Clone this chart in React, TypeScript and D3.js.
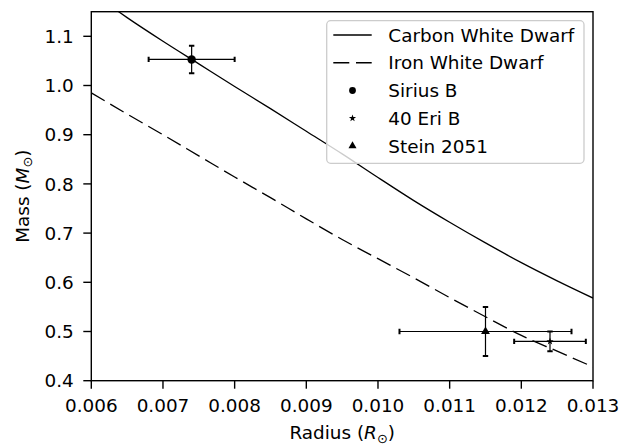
import React from "react";
import * as d3 from "d3";

// model curves (radius in R_sun, mass in M_sun)
const radiusGrid = [0.006, 0.0065, 0.007, 0.0075, 0.008, 0.0085, 0.009, 0.0095, 0.01, 0.0105, 0.011, 0.0115, 0.012, 0.0125, 0.013];
const carbonMass = [1.19, 1.138, 1.09, 1.044, 0.998, 0.953, 0.907, 0.861, 0.813, 0.766, 0.722, 0.68, 0.64, 0.603, 0.568];
const ironMass = [0.985, 0.942, 0.9, 0.857, 0.814, 0.772, 0.729, 0.687, 0.648, 0.609, 0.569, 0.53, 0.492, 0.46, 0.428];

// observed white dwarfs
const starNames = ["Sirius B", "40 Eri B", "Stein 2051"];
const starRadius = [0.0074, 0.0124, 0.0115];
const starRadiusErr = [0.0006, 0.0005, 0.0012];
const starMass = [1.053, 0.48, 0.5];
const starMassErr = [0.028, 0.02, 0.05];
const starMarkers = ["circle", "star", "triangle"];

const xTicks = [0.006, 0.007, 0.008, 0.009, 0.01, 0.011, 0.012, 0.013];
const yTicks = [0.4, 0.5, 0.6, 0.7, 0.8, 0.9, 1.0, 1.1];

const W = 621;
const H = 446;
const left = 91.3;
const right = 593;
const top = 11.7;
const bottom = 380.7;
const FONT = "DejaVu Sans, sans-serif";
const FS = 18.4;
const LW = 1.3;
const DASH = "15.5,6.5";

const markerPath = (kind: string, big: boolean) => {
  if (kind === "circle") return d3.symbol(d3.symbolCircle, big ? 56 : 36)()!;
  if (kind === "star") return d3.symbol(d3.symbolStar, 16)()!;
  return d3.symbol(d3.symbolTriangle, big ? 34 : 28)()!;
};

const App = () => {
  const x = d3.scaleLinear().domain([0.006, 0.013]).range([left, right]);
  const y = d3.scaleLinear().domain([0.4, 1.15]).range([bottom, top]);

  const line = d3
    .line<number>()
    .x((_, i) => x(radiusGrid[i]))
    .y((d) => y(d))
    .curve(d3.curveMonotoneX);

  const cap = 2.7;

  // legend layout
  const lgX = 326.7;
  const lgY = 20.7;
  const lgW = 257.3;
  const lgH = 142.6;
  const rowY = (i: number) => 35 + i * 27.75;
  const lgLabels = ["Carbon White Dwarf", "Iron White Dwarf", ...starNames];

  return (
    <svg width={W} height={H} style={{ position: "absolute", left: 0, top: 0, background: "#fff" }} fontFamily={FONT}>
      <defs>
        <clipPath id="plotclip">
          <rect x={left} y={top} width={right - left} height={bottom - top} />
        </clipPath>
      </defs>
      <rect x={0} y={0} width={W} height={H} fill="#fff" />

      <g clipPath="url(#plotclip)">
        <path d={line(carbonMass)!} fill="none" stroke="#000" strokeWidth={LW} />
        <path d={line(ironMass)!} fill="none" stroke="#000" strokeWidth={LW} strokeDasharray={DASH} />

        {starNames.map((n, i) => {
          const cx = x(starRadius[i]);
          const cy = y(starMass[i]);
          const x0 = x(starRadius[i] - starRadiusErr[i]);
          const x1 = x(starRadius[i] + starRadiusErr[i]);
          const y0 = y(starMass[i] - starMassErr[i]);
          const y1 = y(starMass[i] + starMassErr[i]);
          return (
            <g key={n}>
              <line x1={x0} x2={x1} y1={cy} y2={cy} stroke="#000" strokeWidth={1.2} />
              <line x1={cx} x2={cx} y1={y0} y2={y1} stroke="#000" strokeWidth={1.2} />
              <line x1={x0} x2={x0} y1={cy - cap} y2={cy + cap} stroke="#000" strokeWidth={2} />
              <line x1={x1} x2={x1} y1={cy - cap} y2={cy + cap} stroke="#000" strokeWidth={2} />
              <line x1={cx - cap} x2={cx + cap} y1={y0} y2={y0} stroke="#000" strokeWidth={2} />
              <line x1={cx - cap} x2={cx + cap} y1={y1} y2={y1} stroke="#000" strokeWidth={2} />
              <path d={markerPath(starMarkers[i], true)} transform={`translate(${cx},${cy})`} fill="#000" />
            </g>
          );
        })}
      </g>

      {/* legend */}
      <g>
        <rect x={lgX} y={lgY} width={lgW} height={lgH} rx={4} fill="#fff" fillOpacity={0.8} stroke="#cccccc" strokeWidth={1.3} />
        {lgLabels.map((lab, i) => (
          <g key={lab}>
            {i === 0 && <line x1={333.3} x2={371.7} y1={rowY(i)} y2={rowY(i)} stroke="#000" strokeWidth={LW} />}
            {i === 1 && (
              <line x1={333.3} x2={371.7} y1={rowY(i)} y2={rowY(i)} stroke="#000" strokeWidth={LW} strokeDasharray="16,6.7" />
            )}
            {i > 1 && <path d={markerPath(starMarkers[i - 2], false)} transform={`translate(352.5,${rowY(i)})`} fill="#000" />}
            <text x={388.3} y={rowY(i)} dy="0.36em" fontSize={FS} fill="#000">
              {lab}
            </text>
          </g>
        ))}
      </g>

      {/* axes frame */}
      <rect x={left} y={top} width={right - left} height={bottom - top} fill="none" stroke="#000" strokeWidth={1.4} />

      {xTicks.map((t) => (
        <g key={t} transform={`translate(${x(t)},${bottom})`}>
          <line y1={0} y2={8} stroke="#000" strokeWidth={1.4} />
          <text y={31.8} textAnchor="middle" fontSize={FS} fill="#000">
            {d3.format(".3f")(t)}
          </text>
        </g>
      ))}
      {yTicks.map((t) => (
        <g key={t} transform={`translate(${left},${y(t)})`}>
          <line x1={0} x2={-8} stroke="#000" strokeWidth={1.4} />
          <text x={-17.5} dy="0.36em" textAnchor="end" fontSize={FS} fill="#000">
            {d3.format(".1f")(t)}
          </text>
        </g>
      ))}

      <text x={(left + right) / 2} y={439} textAnchor="middle" fontSize={FS} fill="#000">
        Radius (<tspan fontStyle="italic">R</tspan>
        <tspan fontSize={FS * 0.7} dy={3.5}>⊙</tspan>
        <tspan dy={-3.5}>)</tspan>
      </text>
      <text transform={`translate(28.5,${(top + bottom) / 2}) rotate(-90)`} textAnchor="middle" fontSize={FS} fill="#000">
        Mass (<tspan fontStyle="italic">M</tspan>
        <tspan fontSize={FS * 0.7} dy={3.5}>⊙</tspan>
        <tspan dy={-3.5}>)</tspan>
      </text>
    </svg>
  );
};

export default App;
